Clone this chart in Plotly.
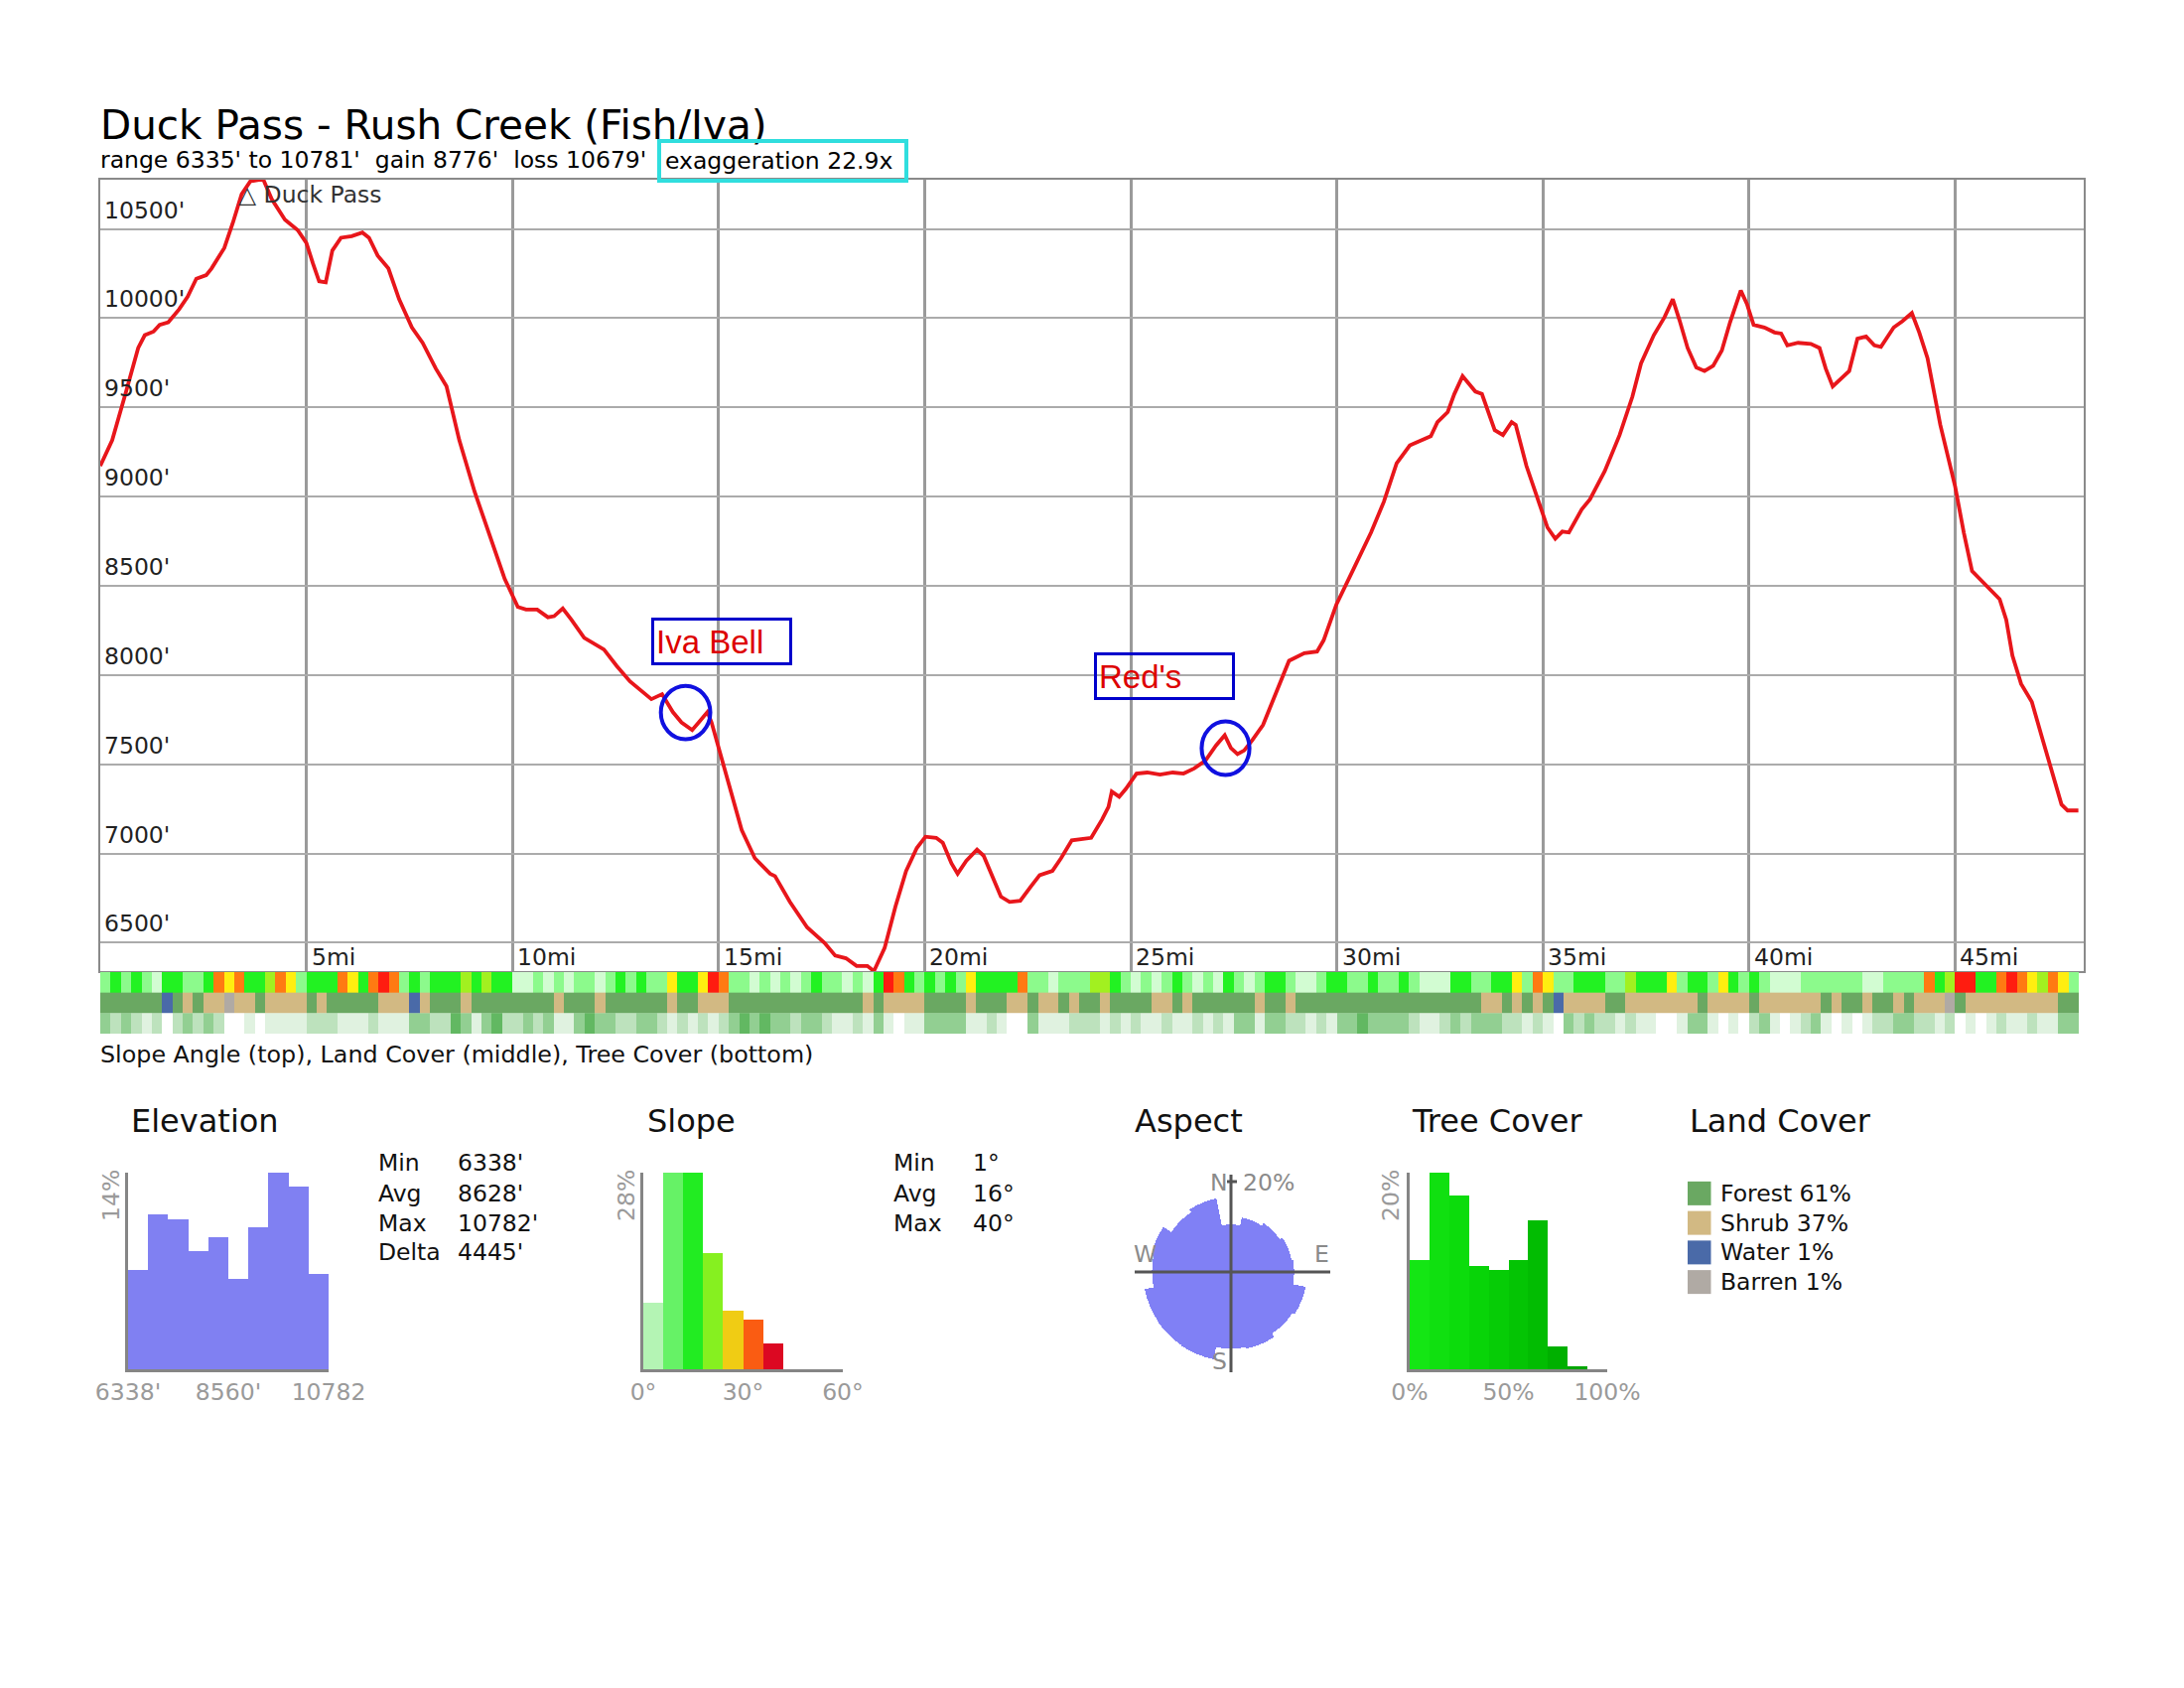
import plotly.graph_objects as go

# ---------------- data ----------------
MILES = [0.00, 0.29, 0.61, 0.92, 1.08, 1.29, 1.44, 1.65, 1.91, 2.12, 2.33, 2.57, 2.70, 3.01, 3.22, 3.43, 3.64, 3.95,
         4.16, 4.48, 4.79, 5.00, 5.16, 5.31, 5.47, 5.63, 5.84, 6.10, 6.36, 6.52, 6.73, 6.99, 7.25, 7.56, 7.82, 8.14,
         8.40, 8.71, 9.08, 9.50, 9.81, 10.13, 10.33, 10.60, 10.86, 11.01, 11.22, 11.43, 11.74, 12.22, 12.53, 12.85,
         13.16, 13.37, 13.63, 13.89, 14.10, 14.36, 14.52, 14.73, 14.83, 15.04, 15.30, 15.56, 15.88, 16.25, 16.37,
         16.73, 17.15, 17.57, 17.83, 18.09, 18.35, 18.61, 18.77, 19.03, 19.29, 19.55, 19.81, 20.02, 20.28, 20.44,
         20.65, 20.80, 21.01, 21.27, 21.43, 21.64, 21.85, 22.06, 22.32, 22.58, 22.79, 23.10, 23.31, 23.57, 24.04,
         24.30, 24.46, 24.54, 24.72, 24.88, 25.14, 25.40, 25.71, 26.02, 26.28, 26.54, 26.81, 27.07, 27.28, 27.43,
         27.59, 27.75, 27.95, 28.21, 28.48, 28.84, 29.21, 29.52, 29.68, 29.99, 30.41, 30.83, 31.14, 31.45, 31.77,
         32.13, 32.28, 32.44, 32.69, 32.85, 33.05, 33.36, 33.52, 33.83, 34.03, 34.24, 34.34, 34.60, 34.86, 35.11,
         35.30, 35.47, 35.63, 35.94, 36.14, 36.50, 36.86, 37.17, 37.38, 37.69, 37.95, 38.15, 38.31, 38.51, 38.72,
         38.92, 39.13, 39.34, 39.54, 39.80, 39.95, 40.11, 40.37, 40.62, 40.78, 40.93, 41.19, 41.50, 41.71, 41.86,
         42.03, 42.27, 42.43, 42.63, 42.84, 43.04, 43.20, 43.51, 43.72, 43.95, 44.13, 44.33, 44.64, 45.00, 45.21,
         45.41, 45.72, 46.08, 46.24, 46.39, 46.60, 46.86, 47.11, 47.37, 47.58, 47.73, 47.99]
ELEV_FT = [9172, 9316, 9575, 9833, 9905, 9925, 9963, 9977, 10049, 10121, 10221, 10241, 10279, 10394, 10537, 10695,
           10767, 10780, 10667, 10552, 10494, 10422, 10307, 10207, 10201, 10379, 10451, 10460, 10480, 10451, 10351,
           10279, 10106, 9948, 9862, 9718, 9618, 9316, 9029, 8741, 8540, 8382, 8367, 8367, 8324, 8330, 8373, 8310,
           8209, 8143, 8051, 7965, 7908, 7865, 7893, 7793, 7735, 7692, 7735, 7793, 7735, 7563, 7362, 7132, 6974,
           6887, 6873, 6729, 6586, 6499, 6428, 6413, 6370, 6370, 6341, 6471, 6701, 6902, 7031, 7094, 7088, 7060,
           6945, 6887, 6959, 7022, 6988, 6873, 6758, 6729, 6735, 6816, 6879, 6902, 6974, 7074, 7088, 7189, 7261,
           7347, 7318, 7362, 7448, 7454, 7442, 7454, 7448, 7477, 7520, 7606, 7663, 7591, 7557, 7577, 7635, 7721,
           7879, 8080, 8123, 8132, 8195, 8396, 8597, 8799, 8971, 9187, 9287, 9322, 9339, 9417, 9474, 9575, 9675,
           9589, 9575, 9373, 9345, 9417, 9402, 9172, 9000, 8827, 8764, 8804, 8799, 8928, 8985, 9143, 9345, 9560,
           9747, 9905, 10006, 10106, 9991, 9833, 9724, 9704, 9733, 9819, 9977, 10155, 10080, 9963, 9948, 9920,
           9914, 9848, 9862, 9856, 9833, 9718, 9618, 9667, 9704, 9885, 9897, 9848, 9839, 9948, 9983, 10029, 9920,
           9776, 9402, 9057, 8799, 8583, 8511, 8425, 8310, 8109, 7951, 7850, 7649, 7448, 7275, 7241, 7241]

Y_TICKS = [6500, 7000, 7500, 8000, 8500, 9000, 9500, 10000, 10500]
X_TICKS = [5, 10, 15, 20, 25, 30, 35, 40, 45]

# strips: one value per 0.25 mile
STRIP_BIN_MI = 0.25
SLOPE_CLASS = [1, 2, 1, 2, 1, 0, 2, 2, 1, 1, 2, 5, 4, 5, 2, 2,
               3, 5, 4, 1, 2, 2, 2, 5, 4, 2, 5, 6, 5, 1, 2, 1,
               2, 2, 2, 3, 2, 3, 2, 2, 0, 0, 1, 0, 1, 0, 1, 1,
               0, 1, 2, 1, 2, 1, 1, 4, 2, 2, 4, 6, 5, 1, 1, 0,
               1, 0, 1, 0, 1, 2, 1, 1, 0, 1, 0, 2, 6, 5, 2, 1,
               2, 1, 2, 1, 4, 2, 2, 2, 2, 5, 1, 1, 0, 1, 1, 1,
               3, 3, 2, 1, 0, 1, 0, 1, 2, 1, 0, 1, 0, 2, 1, 0,
               1, 2, 2, 1, 0, 0, 1, 2, 2, 1, 1, 2, 1, 1, 2, 1,
               0, 0, 0, 2, 2, 1, 1, 2, 2, 4, 1, 5, 4, 1, 1, 2,
               2, 2, 1, 1, 3, 2, 2, 2, 4, 1, 2, 2, 1, 4, 2, 1,
               2, 1, 0, 0, 0, 1, 1, 1, 1, 1, 1, 0, 0, 1, 1, 1,
               1, 5, 2, 3, 6, 6, 2, 2, 5, 6, 5, 4, 3, 5, 4, 1]
LAND_CLASS = [0, 0, 0, 0, 0, 0, 2, 0, 1, 0, 1, 1, 3, 1, 1, 0,
              1, 1, 1, 1, 0, 1, 0, 0, 0, 0, 0, 1, 1, 1, 2, 1,
              0, 0, 0, 1, 0, 0, 0, 0, 0, 0, 0, 0, 1, 0, 0, 0,
              1, 0, 0, 0, 0, 0, 0, 1, 0, 0, 1, 1, 1, 0, 0, 0,
              0, 0, 0, 0, 0, 0, 0, 0, 0, 0, 1, 0, 1, 1, 1, 1,
              0, 0, 0, 0, 1, 0, 0, 0, 1, 1, 0, 1, 1, 0, 1, 0,
              0, 1, 0, 0, 0, 0, 1, 1, 0, 1, 0, 0, 0, 0, 0, 0,
              1, 0, 0, 1, 0, 0, 0, 0, 0, 0, 0, 0, 0, 0, 0, 0,
              0, 0, 0, 0, 0, 0, 1, 1, 0, 1, 0, 1, 0, 2, 1, 1,
              1, 1, 0, 0, 1, 1, 1, 1, 1, 1, 1, 0, 1, 1, 1, 1,
              0, 1, 1, 1, 1, 1, 1, 0, 1, 0, 0, 1, 0, 0, 1, 0,
              1, 1, 1, 3, 0, 1, 1, 1, 1, 1, 1, 1, 1, 1, 0, 0]
TREE_CLASS = [3, 2, 3, 2, 1, 2, 0, 2, 3, 2, 3, 2, 0, 0, 1, 0,
              1, 1, 1, 1, 2, 2, 2, 1, 1, 1, 2, 1, 1, 1, 3, 3,
              2, 2, 4, 3, 1, 3, 4, 2, 2, 3, 2, 3, 1, 1, 3, 4,
              3, 3, 2, 2, 3, 3, 2, 1, 2, 1, 2, 1, 2, 3, 4, 3,
              4, 3, 3, 2, 3, 3, 2, 1, 1, 2, 1, 3, 1, 0, 1, 1,
              3, 3, 3, 3, 1, 1, 2, 1, 0, 0, 3, 1, 1, 1, 2, 2,
              2, 1, 2, 1, 2, 1, 1, 2, 1, 1, 2, 1, 2, 1, 3, 3,
              1, 3, 3, 2, 2, 1, 2, 1, 3, 3, 4, 3, 3, 3, 3, 2,
              1, 1, 2, 3, 2, 3, 3, 3, 2, 2, 1, 2, 1, 0, 3, 2,
              3, 2, 2, 1, 2, 1, 1, 0, 0, 1, 3, 3, 1, 0, 1, 0,
              2, 3, 1, 0, 1, 2, 3, 1, 0, 1, 0, 1, 2, 2, 3, 3,
              2, 2, 1, 2, 0, 1, 0, 1, 2, 1, 1, 2, 1, 1, 3, 3]

ELEV_HIST_PCT = [7.1, 11.0, 10.7, 8.4, 9.4, 6.4, 10.1, 14.0, 13.0, 6.8]
ELEV_STATS = [("Min", "6338'"), ("Avg", "8628'"), ("Max", "10782'"), ("Delta", "4445'")]
ELEV_MIN, ELEV_MAX = 6338, 10782
SLOPE_BIN_DEG = [3, 9, 15, 21, 27, 33, 39]
SLOPE_HIST_PCT = [9.5, 28.0, 28.0, 16.5, 8.3, 7.1, 3.7]
SLOPE_STATS = [("Min", "1°"), ("Avg", "16°"), ("Max", "40°")]
ASPECT_DIR = [0, 22.5, 45, 67.5, 90, 112.5, 135, 157.5, 180, 202.5, 225, 247.5, 270, 292.5, 315, 337.5]
ASPECT_PCT = [10.5, 12.3, 13.0, 13.7, 14.0, 16.9, 16.4, 17.3, 17.0, 19.7, 19.6, 19.5, 17.5, 18.0, 15.9, 16.6]
TREE_BIN_PCT = [5, 15, 25, 35, 45, 55, 65, 75, 85]
TREE_HIST_PCT = [11.1, 20.0, 17.7, 10.5, 10.1, 11.1, 15.2, 2.3, 0.3]
LAND_NAMES = ["Forest", "Shrub", "Water", "Barren"]
LAND_PCT = [61, 37, 1, 1]

# ---------------- styling ----------------
W, H = 2200, 1700
FONT = "DejaVu Sans"
TXT = 23.5


def px(x):
    return x / W


def py(y):
    return 1 - y / H


SLOPE_COLORS = ["#d2fcd2", "#8cfa8c", "#22f222", "#a2f020", "#ffee10", "#ff7a12", "#ff1c10"]
LAND_COLORS = ["#6aa862", "#d2b983", "#4a6aa8", "#b0aaa4"]
TREE_COLORS = ["#ffffff", "#e0f2e0", "#bde2bd", "#92cf92", "#62b862"]
SLOPE_BAR_COLORS = ["#b4f4b4", "#66f266", "#22ec22", "#86f020", "#f0cc14", "#fa5c12", "#dc0822"]
TREE_BAR_COLORS = ["#14e614", "#10e010", "#0cdc0c", "#08d408", "#06cc06", "#04c404", "#02bc02", "#00b000", "#00a600"]


def step_scale(colors):
    n = len(colors)
    sc = []
    for k, c in enumerate(colors):
        sc.append([k / n, c])
        sc.append([(k + 1) / n, c])
    return sc


fig = go.Figure()

# main profile
fig.add_trace(go.Scatter(x=MILES, y=ELEV_FT, mode="lines", line=dict(color="#e8161b", width=3.8),
                         xaxis="x", yaxis="y", hoverinfo="skip"))

# strips
edges = [i * STRIP_BIN_MI for i in range(len(SLOPE_CLASS) + 1)]
for row, vals, cols in [(2, SLOPE_CLASS, SLOPE_COLORS), (1, LAND_CLASS, LAND_COLORS), (0, TREE_CLASS, TREE_COLORS)]:
    fig.add_trace(go.Heatmap(z=[vals], x=edges, y=[row - 0.5, row + 0.5], colorscale=step_scale(cols),
                             zmin=-0.5, zmax=len(cols) - 0.5, showscale=False, xaxis="x2", yaxis="y2",
                             hoverinfo="skip"))

# elevation histogram
ew = (ELEV_MAX - ELEV_MIN) / len(ELEV_HIST_PCT)
fig.add_trace(go.Bar(x=[ELEV_MIN + ew * (i + 0.5) for i in range(len(ELEV_HIST_PCT))], y=ELEV_HIST_PCT,
                     width=ew, marker=dict(color="#8080f2", line=dict(width=0)), xaxis="x3", yaxis="y3"))
# slope histogram
fig.add_trace(go.Bar(x=SLOPE_BIN_DEG, y=SLOPE_HIST_PCT, width=6,
                     marker=dict(color=SLOPE_BAR_COLORS, line=dict(width=0)), xaxis="x4", yaxis="y4"))
# tree cover histogram
fig.add_trace(go.Bar(x=TREE_BIN_PCT, y=TREE_HIST_PCT, width=10,
                     marker=dict(color=TREE_BAR_COLORS, line=dict(width=0)), xaxis="x5", yaxis="y5"))
# aspect rose
fig.add_trace(go.Barpolar(r=ASPECT_PCT, theta=ASPECT_DIR, width=22.5,
                          marker=dict(color="#8080f5", line=dict(width=0)), subplot="polar"))
# land cover legend swatches
fig.add_trace(go.Scatter(x=[11.5] * len(LAND_NAMES), y=list(range(len(LAND_NAMES) - 1, -1, -1)),
                         mode="markers", marker=dict(symbol="square", size=24, color=LAND_COLORS),
                         xaxis="x6", yaxis="y6", hoverinfo="skip"))

MAIN_XR = [0, 48.12]
MAIN_YR = [6341, 10776]
axis_off = dict(visible=False, fixedrange=True, automargin=False)
small_x = dict(showline=True, linecolor="#858585", linewidth=3, showgrid=False, zeroline=False, ticks="",
               tickfont=dict(family=FONT, size=TXT, color="#9a9a9a"), fixedrange=True, automargin=False)
small_y = dict(showline=True, linecolor="#858585", linewidth=3, showgrid=False, zeroline=False,
               showticklabels=False, ticks="", fixedrange=True, automargin=False)

fig.update_layout(
    width=W, height=H, autosize=False,
    margin=dict(l=0, r=0, t=0, b=0, pad=0, autoexpand=False),
    paper_bgcolor="white", plot_bgcolor="white",
    showlegend=False, font=dict(family=FONT, size=TXT, color="#111"), bargap=0,
    xaxis=dict(domain=[px(101), px(2099)], range=MAIN_XR, tickvals=X_TICKS, showticklabels=False,
               showgrid=True, gridcolor="#9a9a9a", gridwidth=2.5, showline=True, linecolor="#8a8a8a",
               linewidth=2, mirror=True, zeroline=False, ticks="", fixedrange=True, automargin=False),
    yaxis=dict(domain=[py(978), py(181)], range=MAIN_YR, tickvals=Y_TICKS, showticklabels=False,
               showgrid=True, gridcolor="#ababab", gridwidth=2, showline=True, linecolor="#8a8a8a",
               linewidth=2, mirror=True, zeroline=False, ticks="", fixedrange=True, automargin=False),
    xaxis2=dict(domain=[px(101), px(2099)], range=MAIN_XR, anchor="y2", **axis_off),
    yaxis2=dict(domain=[py(1041), py(979)], range=[-0.5, 2.5], anchor="x2", **axis_off),
    xaxis3=dict(domain=[px(129), px(331)], range=[ELEV_MIN, ELEV_MAX], anchor="y3",
                tickvals=[6338, 8560, 10782], ticktext=["6338'", "8560'", "10782"], **small_x),
    yaxis3=dict(domain=[py(1379), py(1181)], range=[0, 14], anchor="x3", **small_y),
    xaxis4=dict(domain=[px(648), px(849)], range=[0, 60], anchor="y4",
                tickvals=[0, 30, 60], ticktext=["0°", "30°", "60°"], **small_x),
    yaxis4=dict(domain=[py(1379), py(1181)], range=[0, 28], anchor="x4", **small_y),
    xaxis5=dict(domain=[px(1420), px(1619)], range=[0, 100], anchor="y5",
                tickvals=[0, 50, 100], ticktext=["0%", "50%", "100%"], **small_x),
    yaxis5=dict(domain=[py(1379), py(1181)], range=[0, 20], anchor="x5", **small_y),
    xaxis6=dict(domain=[px(1700), px(1900)], range=[0, 200], anchor="y6", **axis_off),
    yaxis6=dict(domain=[py(1306), py(1187)], range=[-0.5, 3.5], anchor="x6", **axis_off),
    polar=dict(domain=dict(x=[px(1140), px(1340)], y=[py(1381), py(1181)]), bgcolor="rgba(0,0,0,0)",
               bargap=0, hole=0,
               radialaxis=dict(range=[0, 22], visible=False),
               angularaxis=dict(direction="clockwise", rotation=90, visible=False)),
)

ann = []


def text(x, y, s, size=TXT, color="#111", xanchor="left", yanchor="middle", **kw):
    ann.append(dict(x=x, y=y, xref=kw.pop("xref", "paper"), yref=kw.pop("yref", "paper"), text=s,
                    showarrow=False, xanchor=xanchor, yanchor=yanchor,
                    font=dict(family=kw.pop("family", FONT), size=size, color=color), **kw))


NB = "\u00a0"
text(px(99), py(126), "Duck Pass - Rush Creek (Fish/Iva)", size=40.5, color="#000")
text(px(99), py(161), f"range 6335' to 10781'{NB}{NB}gain 8776'{NB}{NB}loss 10679'", color="#000")
text(px(662), py(162), "exaggeration 22.9x", color="#000", bordercolor="#30dede", borderwidth=4,
     borderpad=4, width=237, align="left")

for v in Y_TICKS:
    text(px(103), v, f"{v}'", color="#222", yref="y", yanchor="bottom", yshift=3)
for v in X_TICKS:
    text(v, py(964), f"{v}mi", color="#222", xref="x", xshift=3)

text(3.29, py(196), "△ Duck Pass", color="#333", xref="x")

# place labels
text(15.08, 8187, "Iva Bell", size=33, color="#dd0000", xref="x", yref="y", xanchor="center",
     family="Liberation Sans", bordercolor="#0000cc", borderwidth=3, borderpad=2, width=132, height=38,
     align="left")
text(25.81, 7993, "Red's", size=33, color="#dd0000", xref="x", yref="y", xanchor="center",
     family="Liberation Sans", bordercolor="#0000cc", borderwidth=3, borderpad=2, width=132, height=38,
     align="left")

text(px(99), py(1062), "Slope Angle (top), Land Cover (middle), Tree Cover (bottom)", size=23.8, color="#111")

# section titles
for x, s in [(130, "Elevation"), (650, "Slope"), (1141, "Aspect"), (1420, "Tree Cover"), (1700, "Land Cover")]:
    text(px(x), py(1129), s, size=32, color="#111")

rows_y = [1171, 1202, 1232, 1261]
for (lab, val), yy in zip(ELEV_STATS, rows_y):
    text(px(379), py(yy), lab, color="#111")
    text(px(459), py(yy), val, color="#111")
for (lab, val), yy in zip(SLOPE_STATS, rows_y):
    text(px(898), py(yy), lab, color="#111")
    text(px(978), py(yy), val, color="#111")

# rotated max labels
for x, s in [(112, "14%"), (631, "28%"), (1401, "20%")]:
    text(px(x), py(1204), s, color="#9a9a9a", xanchor="center", textangle=-90)

# aspect labels
text(px(1228), py(1191), "N", color="#8a8a8a", xanchor="center")
text(px(1250), py(1191), "20%", color="#8a8a8a")
text(px(1153), py(1263), "W", color="#8a8a8a", xanchor="center")
text(px(1331), py(1263), "E", color="#8a8a8a", xanchor="center")
text(px(1228), py(1371), "S", color="#8a8a8a", xanchor="center")

# land cover legend labels
for i, (n, p) in enumerate(zip(LAND_NAMES, LAND_PCT)):
    text(31, len(LAND_NAMES) - 1 - i, f"{n} {p}%", color="#111", xref="x6", yref="y6")

fig.update_layout(annotations=ann)

# circles marking places (data coordinates)
shapes = [
    dict(type="circle", xref="x", yref="y", x0=14.2 - 0.6, x1=14.2 + 0.6, y0=7790 - 150, y1=7790 + 150,
         line=dict(color="#1010e0", width=4)),
    dict(type="circle", xref="x", yref="y", x0=27.3 - 0.58, x1=27.3 + 0.58, y0=7590 - 150, y1=7590 + 150,
         line=dict(color="#1010e0", width=4)),
    # aspect cross
    dict(type="line", xref="paper", yref="paper", x0=px(1143), x1=px(1340), y0=py(1281), y1=py(1281),
         line=dict(color="#555", width=3), layer="above"),
    dict(type="line", xref="paper", yref="paper", x0=px(1240), x1=px(1240), y0=py(1183), y1=py(1382),
         line=dict(color="#555", width=3), layer="above"),
    dict(type="line", xref="paper", yref="paper", x0=px(1236), x1=px(1246), y0=py(1190), y1=py(1190),
         line=dict(color="#555", width=3), layer="above"),
]
fig.update_layout(shapes=shapes)

fig.write_html("out.html")
